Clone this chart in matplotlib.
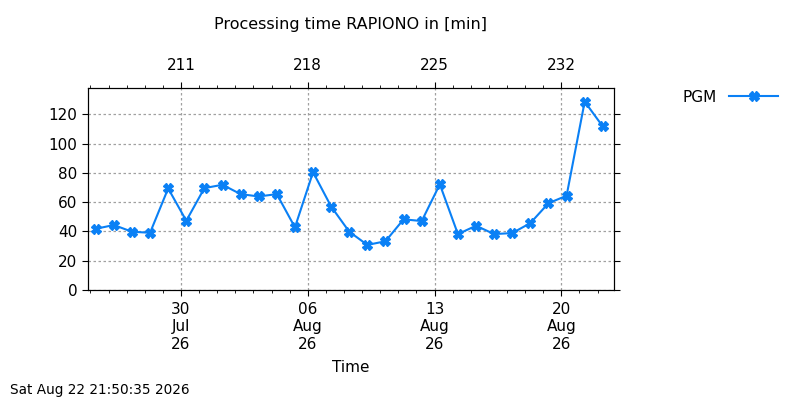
import datetime as dt
import matplotlib
matplotlib.use("Agg")
import matplotlib.pyplot as plt
import matplotlib.dates as mdates

# daily processing times (minutes), one run per day
start_day = "2026-07-25"
minutes = [41.8, 44.4, 39.8, 39.1, 69.4, 47.3, 69.6, 71.9, 65.5, 63.9,
           65.5, 42.8, 80.5, 57.0, 39.8, 30.8, 33.3, 48.3, 47.1, 72.2,
           38.2, 43.9, 38.2, 38.9, 45.7, 59.3, 64.4, 128.7, 111.7]
major_days = ["2026-07-30", "2026-08-06", "2026-08-13", "2026-08-20"]
doy_labels = ["211", "218", "225", "232"]
stamp = "Sat Aug 22 21:50:35 2026"

t0 = dt.datetime.strptime(start_day, "%Y-%m-%d") + dt.timedelta(hours=7)
times = [t0 + dt.timedelta(days=i) for i in range(len(minutes))]
majors = [dt.datetime.strptime(d, "%Y-%m-%d") for d in major_days]

blue = "#0a80f5"
plt.rcParams["font.family"] = "DejaVu Sans"

fig = plt.figure(figsize=(8, 4), dpi=100)
ax = fig.add_axes([0.11, 0.275, 0.6575, 0.505])

ax.plot(times, minutes, color=blue, lw=1.5, marker="X", ms=6.5,
        mec=blue, mfc=blue, label="PGM")

xmin = dt.datetime(2026, 7, 24, 20, 45)
xmax = dt.datetime.strptime(stamp, "%a %b %d %H:%M:%S %Y")
ax.set_xlim(xmin, xmax)
ax.set_ylim(0, 138)
ax.set_yticks(range(0, 121, 20))

ax.set_xticks(majors)
ax.xaxis.set_major_formatter(mdates.DateFormatter("%d\n%b\n%y"))
ax.xaxis.set_minor_locator(mdates.DayLocator())
ax.tick_params(axis="both", which="both", direction="out", labelsize=11)
ax.tick_params(which="major", length=4)
ax.tick_params(which="minor", length=2.2)
ax.tick_params(axis="x", which="major", pad=4.5)
ax.tick_params(axis="y", right=True)
ax.grid(True, which="major", color="#a0a0a0", ls=(0, (2, 2)), lw=0.9)

top = ax.twiny()
top.set_xlim(ax.get_xlim())
top.set_xticks(mdates.date2num(majors))
top.set_xticklabels(doy_labels)
top.xaxis.set_minor_locator(mdates.DayLocator())
top.tick_params(which="both", direction="out", labelsize=11, pad=7)
top.tick_params(which="major", length=4)
top.tick_params(which="minor", length=2.2)

ax.set_xlabel("Time", fontsize=11, labelpad=6)
fig.text(0.4375, 0.94, "Processing time RAPIONO in [min]", ha="center",
         va="center", fontsize=11.5)
fig.text(0.0125, 0.025, stamp, fontsize=9.8, va="center")

fig.legend(loc="center right", bbox_to_anchor=(0.99, 0.757), frameon=False,
           markerfirst=False, handlelength=3.2, fontsize=11)

fig.savefig("out.png", dpi=100)
